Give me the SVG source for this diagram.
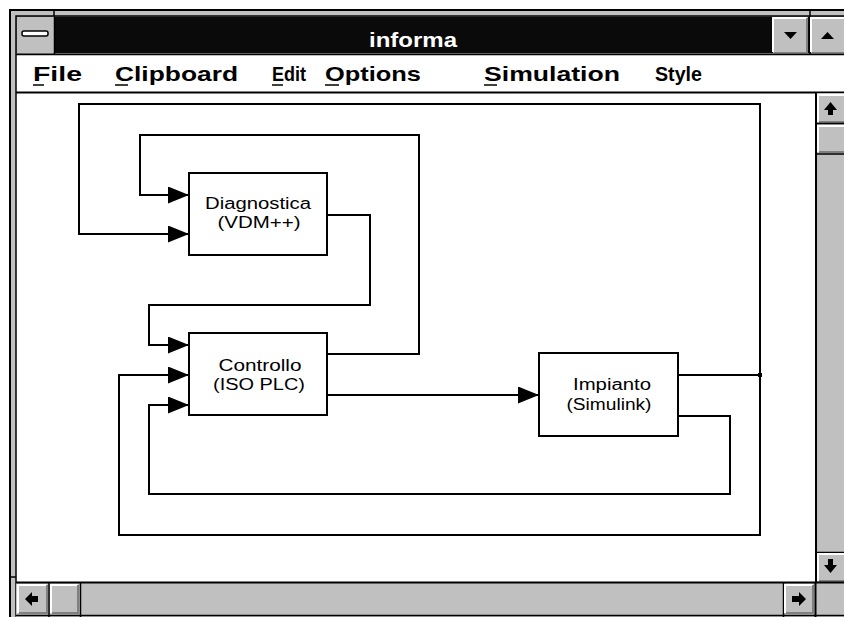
<svg xmlns="http://www.w3.org/2000/svg" width="844" height="617" viewBox="0 0 844 617">
<style>
.ln{fill:none;stroke:#000;stroke-width:2}
.box{fill:#fff;stroke:#000;stroke-width:2}
.lbl{font-family:"Liberation Sans",Arial,sans-serif;font-size:16px;fill:#000;text-anchor:middle}
.menu{font-family:"Liberation Sans",Arial,sans-serif;font-size:21px;font-weight:bold;fill:#000}
.btn{fill:#c0c0c0;stroke:#000;stroke-width:1.5}
.hi{fill:none;stroke:#fff;stroke-width:2}
.sh{fill:none;stroke:#808080;stroke-width:2}
</style>
<defs>
<marker id="ah" markerUnits="userSpaceOnUse" markerWidth="21" markerHeight="17" refX="21" refY="8.5" orient="auto">
<path d="M0,0 L21,8.5 L0,17 z" fill="#000"/>
</marker>
</defs>
<rect width="844" height="617" fill="#fff"/>
<g id="window">
<rect x="10" y="10" width="840" height="612" fill="#c0c0c0" stroke="#000" stroke-width="2"/>
<rect x="16" y="16" width="834" height="600" fill="#fff" stroke="#000" stroke-width="1.5"/>
<line x1="54" y1="10" x2="54" y2="16" stroke="#000" stroke-width="1.5"/>
<line x1="810" y1="10" x2="810" y2="16" stroke="#000" stroke-width="1.5"/>
<line x1="10" y1="577" x2="16" y2="577" stroke="#000" stroke-width="1.5"/>
<rect x="16.5" y="16.5" width="830" height="37" fill="#0a0a0a"/>
<rect x="17" y="17" width="37" height="36" fill="#c0c0c0"/>
<line x1="54.5" y1="16" x2="54.5" y2="54" stroke="#000" stroke-width="1.5"/>
<rect x="22" y="31" width="26" height="5" rx="2" fill="#fff" stroke="#000" stroke-width="1.5"/>
<text x="413" y="47" font-family="'Liberation Sans',Arial,sans-serif" font-size="20" font-weight="bold" fill="#fff" text-anchor="middle" textLength="88" lengthAdjust="spacingAndGlyphs">informa</text>
<rect x="773" y="17" width="35" height="36" fill="#c0c0c0"/>
<path d="M773,52 V18 H807" class="hi"/>
<path d="M774,53 H807 V18" class="sh"/>
<path d="M784,32 H797 L790.5,39 z" fill="#000"/>
<line x1="810" y1="16" x2="810" y2="54" stroke="#000" stroke-width="1.5"/>
<rect x="811" y="17" width="40" height="36" fill="#c0c0c0"/>
<path d="M811,52 V18 H844" class="hi"/>
<path d="M812,53 H844" class="sh"/>
<path d="M821,39 H834 L827.5,32 z" fill="#000"/>
<line x1="16" y1="54.5" x2="850" y2="54.5" stroke="#000" stroke-width="1.5"/>
<line x1="16" y1="92.5" x2="850" y2="92.5" stroke="#000" stroke-width="2"/>
<g class="menu">
<text x="33" y="81" textLength="49" lengthAdjust="spacingAndGlyphs">File</text>
<text x="115" y="81" textLength="123" lengthAdjust="spacingAndGlyphs">Clipboard</text>
<text x="272" y="81" textLength="34" lengthAdjust="spacingAndGlyphs">Edit</text>
<text x="325" y="81" textLength="96" lengthAdjust="spacingAndGlyphs">Options</text>
<text x="484" y="81" textLength="136" lengthAdjust="spacingAndGlyphs">Simulation</text>
<text x="655" y="81" textLength="47" lengthAdjust="spacingAndGlyphs">Style</text>
</g>
<g stroke="#000" stroke-width="1.5">
<line x1="33" y1="85" x2="44" y2="85"/>
<line x1="115" y1="85" x2="128" y2="85"/>
<line x1="272" y1="85" x2="283" y2="85"/>
<line x1="325" y1="85" x2="339" y2="85"/>
<line x1="484" y1="85" x2="497" y2="85"/>
</g>
<!-- vertical scrollbar -->
<rect x="816" y="93" width="34" height="490" fill="#c0c0c0"/>
<line x1="816" y1="93" x2="816" y2="583" stroke="#000" stroke-width="2"/>
<rect x="817" y="94" width="30" height="29" fill="#c0c0c0"/>
<path d="M818,122 V95 H846" class="hi"/>
<path d="M819,122 H846" class="sh"/>
<line x1="816" y1="123.5" x2="850" y2="123.5" stroke="#000" stroke-width="1.5"/>
<path d="M830.5,102 L824,110 H828 V115 H833 V110 H837 z" fill="#000"/>
<rect x="817" y="125" width="30" height="28" fill="#c0c0c0"/>
<path d="M818,152 V126 H846" class="hi"/>
<path d="M819,152 H846" class="sh"/>
<line x1="816" y1="154" x2="850" y2="154" stroke="#000" stroke-width="1.5"/>
<line x1="816" y1="552.5" x2="850" y2="552.5" stroke="#000" stroke-width="1.5"/>
<path d="M818,581 V554 H846" class="hi"/>
<path d="M819,581 H846" class="sh"/>
<path d="M830.5,573 L824,565 H828 V559 H833 V565 H837 z" fill="#000"/>
<!-- horizontal scrollbar -->
<rect x="16" y="583" width="834" height="34" fill="#c0c0c0"/>
<line x1="16" y1="582.5" x2="850" y2="582.5" stroke="#000" stroke-width="2"/>
<path d="M18,613 V585 H47" class="hi"/>
<path d="M19,613 H47 V585" class="sh"/>
<line x1="49" y1="583" x2="49" y2="617" stroke="#000" stroke-width="1.5"/>
<path d="M25,599 L32,592 V596 H38 V602 H32 V606 z" fill="#000"/>
<path d="M51,613 V585 H78" class="hi"/>
<path d="M52,613 H78 V585" class="sh"/>
<line x1="80.5" y1="583" x2="80.5" y2="617" stroke="#000" stroke-width="1.5"/>
<line x1="783.5" y1="583" x2="783.5" y2="617" stroke="#000" stroke-width="1.5"/>
<path d="M785,613 V585 H813" class="hi"/>
<path d="M786,613 H813 V585" class="sh"/>
<path d="M806,599 L799,592 V596 H792 V602 H799 V606 z" fill="#000"/>
<line x1="815.5" y1="583" x2="815.5" y2="617" stroke="#000" stroke-width="2"/>
<line x1="16" y1="615.5" x2="850" y2="615.5" stroke="#000" stroke-width="1.5"/>
</g>
<g id="connectors">
<path class="ln" d="M327,215 H370 V305 H149 V345 H189" marker-end="url(#ah)"/>
<path class="ln" d="M327,354 H419 V135 H140 V195 H189" marker-end="url(#ah)"/>
<path class="ln" d="M327,395 H539" marker-end="url(#ah)"/>
<path class="ln" d="M678,375 H760"/>
<path class="ln" d="M760,375 V104 H79 V234 H189" marker-end="url(#ah)"/>
<path class="ln" d="M760,375 V535 H119 V375 H189" marker-end="url(#ah)"/>
<path class="ln" d="M678,416 H730 V494 H149 V405 H189" marker-end="url(#ah)"/>
<rect x="758" y="373" width="4" height="4" fill="#000"/>
</g>
<g id="diagnostica">
<rect class="box" x="189" y="173" width="138" height="82"/>
<text class="lbl" x="258" y="209" textLength="106" lengthAdjust="spacingAndGlyphs">Diagnostica</text>
<text class="lbl" x="259" y="228" textLength="83" lengthAdjust="spacingAndGlyphs">(VDM++)</text>
</g>
<g id="controllo">
<rect class="box" x="189" y="333" width="138" height="82"/>
<text class="lbl" x="260" y="371" textLength="83" lengthAdjust="spacingAndGlyphs">Controllo</text>
<text class="lbl" x="259" y="390" textLength="92" lengthAdjust="spacingAndGlyphs">(ISO PLC)</text>
</g>
<g id="impianto">
<rect class="box" x="539" y="353" width="139" height="83"/>
<text class="lbl" x="612" y="390" textLength="78" lengthAdjust="spacingAndGlyphs">Impianto</text>
<text class="lbl" x="609" y="410" textLength="85" lengthAdjust="spacingAndGlyphs">(Simulink)</text>
</g>
</svg>
